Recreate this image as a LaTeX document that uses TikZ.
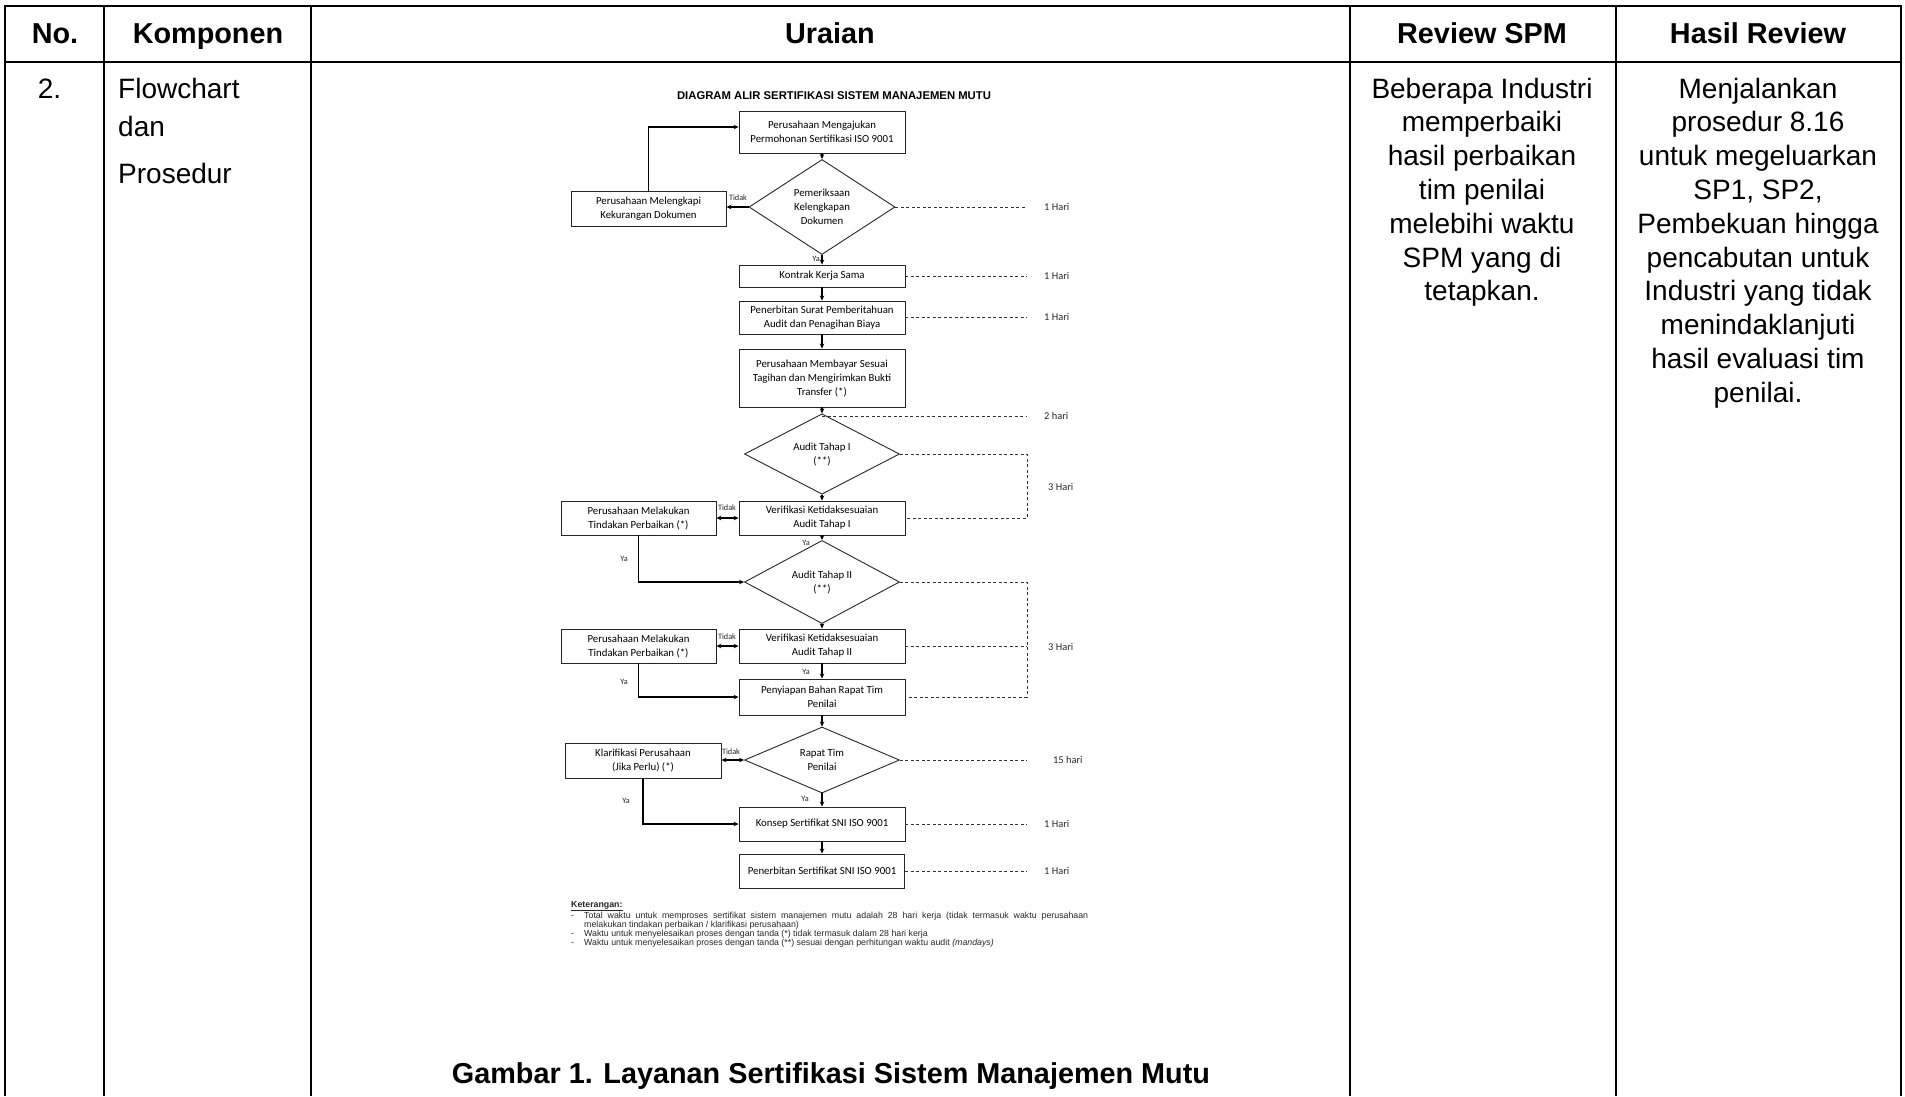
\documentclass[tikz,border=0pt]{standalone}
\usepackage{fontspec}
\setmainfont{Liberation Sans}
\newfontfamily\fcarl{Carlito}
\usetikzlibrary{arrows.meta,shapes.geometric,calc}
\begin{document}
\begin{tikzpicture}[x=1pt,y=-1pt,
  tline/.style={line width=2pt},
  hdr/.style={font=\fontsize{28.8}{34}\selectfont\bfseries, anchor=base, inner sep=0},
  bodyl/.style={font=\fontsize{28}{33.6}\selectfont, anchor=base, inner sep=0},
  fbox/.style={draw=black!85, line width=0.9pt, font=\fcarl\fontsize{10.8}{14}\selectfont, align=center, inner sep=0, minimum width=166pt},
  fdia/.style={draw=black!85, line width=0.9pt, diamond, font=\fcarl\fontsize{10.8}{14}\selectfont, align=center, inner sep=0, minimum width=155pt, minimum height=66pt},
  arr/.style={line width=1.3pt, -{Stealth[length=5pt,width=4.5pt]}},
  darr/.style={line width=1.3pt, {Stealth[length=5pt,width=4.5pt]}-{Stealth[length=5pt,width=4.5pt]}},
  dsh/.style={line width=0.8pt, dash pattern=on 3pt off 2.5pt, black!80},
  lbl/.style={font=\fcarl\fontsize{8.2}{9}\selectfont, inner sep=0, text=black!85},
  hari/.style={font=\fcarl\fontsize{10.4}{12}\selectfont, inner sep=0, anchor=west, text=black!85},
  ket/.style={font=\fontsize{8.8}{10}\selectfont, inner sep=0, anchor=base west, text=black!85},
]
\useasboundingbox (0,0) rectangle (1905,1096);
% ---------- table ----------
\draw[tline] (4,6) -- (1902,6);
\draw[tline] (4,62) -- (1902,62);
\foreach \x in {5,104,311,1350,1616,1901} \draw[tline] (\x,5) -- (\x,1096);
\node[hdr] (hno) at (55,43) {No.};
\node[hdr] (hkomp) at (208,43) {Komponen};
\node[hdr] (hur) at (830,43) {Uraian};
\node[hdr] (hrev) at (1482,43) {Review SPM};
\node[hdr] (hhas) at (1758,43) {Hasil Review};
\node[bodyl] (no2) at (49.5,98) {2.};
\node[bodyl, anchor=base west] (kp1) at (118,98) {Flowchart};
\node[bodyl, anchor=base west] (kp2) at (118,136) {dan};
\node[bodyl, anchor=base west] (kp3) at (118,183) {Prosedur};
\foreach \t [count=\i] in {Beberapa Industri, memperbaiki, hasil perbaikan, tim penilai, melebihi waktu, SPM yang di, tetapkan.}
  \node[bodyl] (rs\i) at (1482,{98+33.8*(\i-1)}) {\t};
\foreach \t [count=\i] in {Menjalankan, prosedur 8.16, untuk megeluarkan, {SP1, SP2,}, Pembekuan hingga, pencabutan untuk, Industri yang tidak, menindaklanjuti, hasil evaluasi tim, penilai.}
  \node[bodyl] (hr\i) at (1758,{98+33.8*(\i-1)}) {\t};
\node[hdr] (cap) at (831,1083) {Gambar 1. Layanan Sertifikasi Sistem Manajemen Mutu};
% ---------- flowchart ----------
\node[font=\fontsize{11.3}{13}\selectfont\bfseries, anchor=base, inner sep=0] (ttl) at (834,99) {DIAGRAM ALIR SERTIFIKASI SISTEM MANAJEMEN MUTU};
\node[fbox, minimum height=42pt] (b1) at (822,132) {Perusahaan Mengajukan\\Permohonan Sertifikasi ISO 9001};
\node[fdia, minimum width=146pt, minimum height=95pt] (d1) at (822,207) {Pemeriksaan\\Kelengkapan\\Dokumen};
\node[fbox, minimum width=155pt, minimum height=35pt] (l1) at (648.5,208.5) {Perusahaan Melengkapi\\Kekurangan Dokumen};
\node[fbox, minimum height=22pt] (k) at (822,276) {Kontrak Kerja Sama};
\node[fbox, minimum height=33pt] (p1) at (822,317.5) {Penerbitan Surat Pemberitahuan\\Audit dan Penagihan Biaya};
\node[fbox, minimum height=58pt] (m) at (822,378) {Perusahaan Membayar Sesuai\\Tagihan dan Mengirimkan Bukti\\Transfer (*)};
\node[fdia] (d2) at (822,454) {Audit Tahap I\\(**)};
\node[fbox, minimum height=34pt] (v1) at (822,518) {Verifikasi Ketidaksesuaian\\Audit Tahap I};
\node[fbox, minimum width=155pt, minimum height=34pt] (l2) at (638.5,518) {Perusahaan Melakukan\\Tindakan Perbaikan (*)};
\node[fdia] (d3) at (822,582) {Audit Tahap II\\(**)};
\node[fbox, minimum height=34pt] (v2) at (822,646) {Verifikasi Ketidaksesuaian\\Audit Tahap II};
\node[fbox, minimum width=155pt, minimum height=34pt] (l3) at (638.5,646) {Perusahaan Melakukan\\Tindakan Perbaikan (*)};
\node[fbox, minimum height=36pt] (s) at (822,697) {Penyiapan Bahan Rapat Tim\\Penilai};
\node[fdia] (d4) at (822,760) {Rapat Tim\\Penilai};
\node[fbox, minimum width=156pt, minimum height=35pt] (l4) at (643,760.5) {Klarifikasi Perusahaan\\(Jika Perlu) (*)};
\node[fbox, minimum height=34pt] (ks) at (822,824) {Konsep Sertifikat SNI ISO 9001};
\node[fbox, minimum width=165.5pt, minimum height=34pt] (ps) at (822,871) {Penerbitan Sertifikat SNI ISO 9001};
% arrows
\draw[arr] (b1.south) -- (d1.north);
\draw[arr] (d1.west) -- (l1.east |- d1.west);
\draw[arr] (l1.north) |- ([yshift=5pt]b1.west);
\draw[arr] (d1.south) -- (k.north);
\draw[arr] (k.south) -- (p1.north);
\draw[arr] (p1.south) -- (m.north);
\draw[arr] (m.south) -- (d2.north);
\draw[arr] (d2.south) -- (v1.north);
\draw[darr] (v1.west) -- (l2.east);
\draw[arr] (v1.south) -- (d3.north);
\draw[arr] (l2.south) |- (d3.west);
\draw[arr] (d3.south) -- (v2.north);
\draw[darr] (v2.west) -- (l3.east);
\draw[arr] (v2.south) -- (s.north);
\draw[arr] (l3.south) |- (s.west);
\draw[arr] (s.south) -- (d4.north);
\draw[darr] (d4.west) -- (l4.east |- d4.west);
\draw[arr] (d4.south) -- (ks.north);
\draw[arr] (l4.south) |- (ks.west);
\draw[arr] (ks.south) -- (ps.north);
% labels
\node[lbl] (t1) at (738,198) {Tidak};
\node[lbl] (y1) at (816,259) {Ya};
\node[lbl] (t2) at (727,508) {Tidak};
\node[lbl] (y2) at (806,543) {Ya};
\node[lbl] (y2b) at (624,559) {Ya};
\node[lbl] (t3) at (727,637) {Tidak};
\node[lbl] (y3) at (806,672) {Ya};
\node[lbl] (y3b) at (624,682) {Ya};
\node[lbl] (t4) at (731,752) {Tidak};
\node[lbl] (y4) at (805,799) {Ya};
\node[lbl] (y4b) at (626,801) {Ya};
% dashed time lines
\coordinate (rx) at (1027,0);
\coordinate (c2) at ($(m.south)+(0,9)$);
\draw[dsh] (d1.east) -- (d1.east -| rx);
\draw[dsh] (k.east) -- (k.east -| rx);
\draw[dsh] (p1.east) -- (p1.east -| rx);
\draw[dsh] (c2) -- (c2 -| rx);
\draw[dsh] (d2.east) -- (d2.east -| rx) -- (v1.east -| rx) -- (v1.east);
\draw[dsh] (d3.east) -- (d3.east -| rx) -- (s.east -| rx) -- (s.east);
\draw[dsh] (v2.east) -- (v2.east -| rx);
\draw[dsh] (d4.east) -- (d4.east -| rx);
\draw[dsh] (ks.east) -- (ks.east -| rx);
\draw[dsh] (ps.east) -- (ps.east -| rx);
\node[hari] (h1) at (1044,207) {1 Hari};
\node[hari] (h2) at (1044,276) {1 Hari};
\node[hari] (h3) at (1044,317) {1 Hari};
\node[hari] (h4) at (1044,416) {2 hari};
\node[hari] (h5) at (1048,487) {3 Hari};
\node[hari] (h6) at (1048,647) {3 Hari};
\node[hari] (h7) at (1053,760) {15 hari};
\node[hari] (h8) at (1044,824) {1 Hari};
\node[hari] (h9) at (1044,871) {1 Hari};
% keterangan
\node[ket, font=\fontsize{8.8}{10}\selectfont\bfseries] (kt) at (571,907) {\underline{Keterangan:}};
\node[ket] (k1d) at (571,918) {-};
\node[ket] (k1) at (584,918) {\makebox[504pt][s]{Total waktu untuk memproses sertifikat sistem manajemen mutu adalah 28 hari kerja (tidak termasuk waktu perusahaan}};
\node[ket] (k2) at (584,927) {melakukan tindakan perbaikan / klarifikasi perusahaan)};
\node[ket] (k3d) at (571,936) {-};
\node[ket] (k3) at (584,936) {Waktu untuk menyelesaikan proses dengan tanda (*) tidak termasuk dalam 28 hari kerja};
\node[ket] (k4d) at (571,945) {-};
\node[ket] (k4) at (584,945) {Waktu untuk menyelesaikan proses dengan tanda (**) sesuai dengan perhitungan waktu audit \textit{(mandays)}};
\end{tikzpicture}
\end{document}
